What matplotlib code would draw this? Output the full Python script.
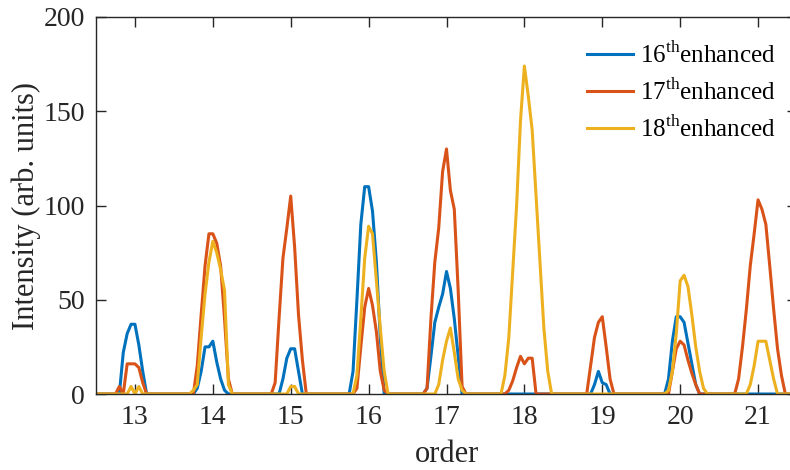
import numpy as np
import matplotlib
matplotlib.use("Agg")
import matplotlib.pyplot as plt

# harmonic order axis, 0.05 step, 20 samples per order (12.5 .. 21.45)
order = np.arange(180) * 0.05 + 12.5

# one row per harmonic order 13..21
h16 = [
    0, 0, 0, 0, 0, 0, 0, 22, 32, 37, 37, 26, 12, 0, 0, 0, 0, 0, 0, 0,
    0, 0, 0, 0, 0, 0, 3, 12, 25, 25, 28, 17, 8, 2, 0, 0, 0, 0, 0, 0,
    0, 0, 0, 0, 0, 0, 0, 0, 8, 19, 24, 24, 12, 0, 0, 0, 0, 0, 0, 0,
    0, 0, 0, 0, 0, 0, 12, 50, 90, 110, 110, 97, 70, 30, 0, 0, 0, 0, 0, 0,
    0, 0, 0, 0, 0, 3, 20, 38, 46, 53, 65, 56, 40, 20, 0, 0, 0, 0, 0, 0,
    0, 0, 0, 0, 0, 0, 0, 0, 0, 0, 0, 0, 0, 0, 0, 0, 0, 0, 0, 0,
    0, 0, 0, 0, 0, 0, 0, 0, 5, 12, 6, 5, 0, 0, 0, 0, 0, 0, 0, 0,
    0, 0, 0, 0, 0, 0, 0, 8, 28, 41, 41, 38, 27, 16, 5, 0, 0, 0, 0, 0,
    0, 0, 0, 0, 0, 0, 0, 0, 0, 0, 0, 0, 0, 0, 0, 0, 0, 0, 0, 0,
]
h17 = [
    0, 0, 0, 0, 0, 0, 4, 0, 16, 16, 16, 14, 6, 0, 0, 0, 0, 0, 0, 0,
    0, 0, 0, 0, 0, 0, 15, 42, 68, 85, 85, 80, 68, 40, 8, 0, 0, 0, 0, 0,
    0, 0, 0, 0, 0, 0, 6, 40, 72, 88, 105, 78, 42, 18, 0, 0, 0, 0, 0, 0,
    0, 0, 0, 0, 0, 0, 0, 3, 25, 46, 56, 47, 33, 12, 2, 0, 0, 0, 0, 0,
    0, 0, 0, 0, 0, 3, 40, 70, 88, 118, 130, 108, 98, 55, 4, 0, 0, 0, 0, 0,
    0, 0, 0, 0, 0, 0, 2, 7, 14, 20, 16, 19, 19, 0, 0, 0, 0, 0, 0, 0,
    0, 0, 0, 0, 0, 0, 0, 15, 30, 38, 41, 25, 8, 0, 0, 0, 0, 0, 0, 0,
    0, 0, 0, 0, 0, 0, 0, 0, 12, 24, 28, 26, 18, 11, 5, 0, 0, 0, 0, 0,
    0, 0, 0, 0, 0, 8, 25, 45, 68, 85, 103, 98, 90, 68, 45, 24, 10, 0, 0, 0,
]
h18 = [
    0, 0, 0, 0, 0, 0, 0, 0, 0, 4, 0, 4, 0, 0, 0, 0, 0, 0, 0, 0,
    0, 0, 0, 0, 0, 2, 5, 30, 53, 70, 81, 75, 66, 55, 5, 0, 0, 0, 0, 0,
    0, 0, 0, 0, 0, 0, 0, 0, 0, 0, 4, 4, 0, 0, 0, 0, 0, 0, 0, 0,
    0, 0, 0, 0, 0, 0, 0, 10, 40, 72, 89, 85, 60, 35, 12, 0, 0, 0, 0, 0,
    0, 0, 0, 0, 0, 0, 0, 0, 5, 18, 28, 35, 22, 8, 2, 0, 0, 0, 0, 0,
    0, 0, 0, 0, 0, 10, 30, 65, 100, 145, 174, 158, 140, 105, 70, 35, 12, 0, 0, 0,
    0, 0, 0, 0, 0, 0, 0, 0, 0, 0, 0, 0, 0, 0, 0, 0, 0, 0, 0, 0,
    0, 0, 0, 0, 0, 0, 0, 2, 12, 32, 60, 63, 57, 42, 25, 12, 3, 0, 0, 0,
    0, 0, 0, 0, 0, 0, 0, 0, 5, 15, 28, 28, 28, 18, 8, 0, 0, 0, 0, 0,
]
labels = [r"16$^{\mathrm{th}}$enhanced", r"17$^{\mathrm{th}}$enhanced",
          r"18$^{\mathrm{th}}$enhanced"]
colors = ["#0072BD", "#D95319", "#EDB120"]

plt.rcParams["font.family"] = ["Liberation Serif", "DejaVu Serif"]
plt.rcParams["mathtext.fontset"] = "custom"
plt.rcParams["mathtext.rm"] = "Liberation Serif"

fig = plt.figure(figsize=(7.9, 4.7), dpi=100)
ax = fig.add_axes([96 / 790, 76 / 470, 701 / 790, 377 / 470])

for y, c, lab in zip([h16, h17, h18], colors, labels):
    ax.plot(order, y, color=c, lw=2.2, label=lab)

ax.set_xlim(12.5, 21.5)
ax.set_ylim(0, 200)
ax.set_xticks(range(13, 22))
ax.set_yticks(range(0, 201, 50))
ax.set_xlabel("order", fontsize=22, color="#262626", labelpad=7)
ax.set_ylabel("Intensity (arb. units)", fontsize=22, color="#262626", labelpad=2)
ax.tick_params(direction="in", length=7, width=1, colors="#262626",
               labelsize=20, top=True, right=True, pad=8)
for s in ax.spines.values():
    s.set_color("#262626")
    s.set_linewidth(1)

ax.legend(loc="upper left", bbox_to_anchor=(587 / 790, 1 - 42 / 470),
          bbox_transform=fig.transFigure, frameon=False, fontsize=18,
          borderpad=0, borderaxespad=0,
          handlelength=1.85, handletextpad=0.25, labelspacing=0.45)

fig.savefig("out.png", dpi=100)
